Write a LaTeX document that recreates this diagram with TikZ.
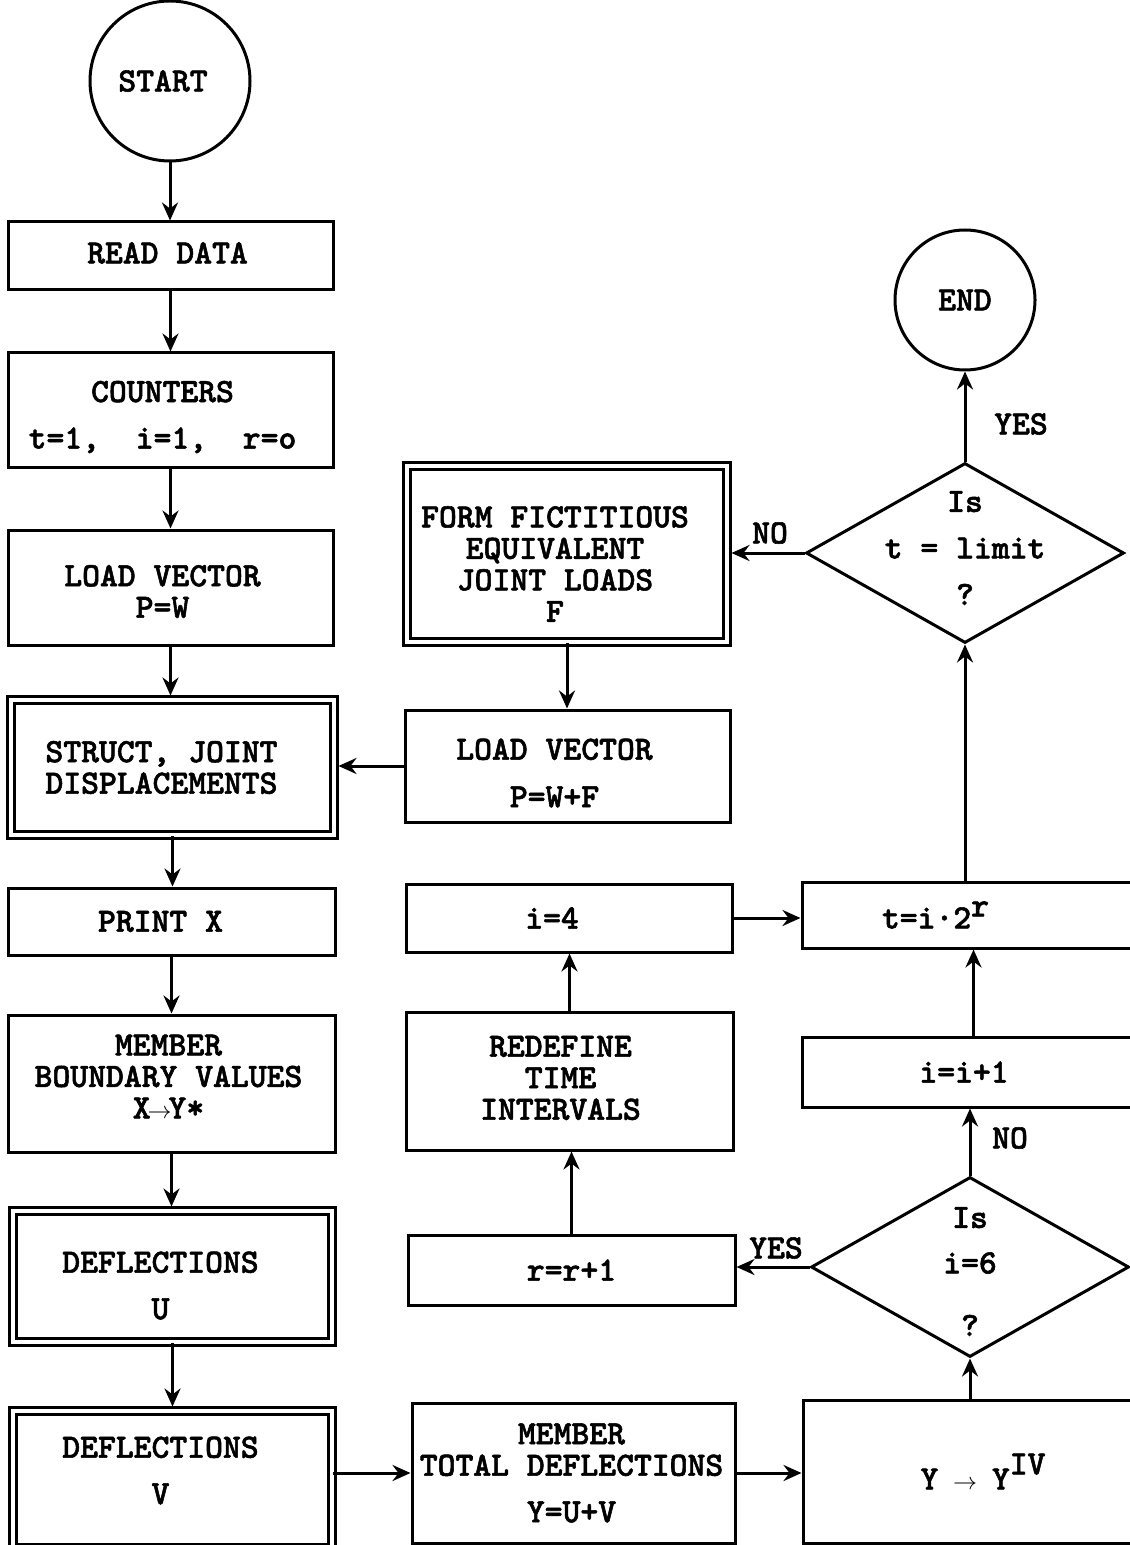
\documentclass[tikz,border=0pt]{standalone}
\usepackage{fontspec}
\newfontfamily\courfont{lmmonolt10-bold.otf}[FakeBold=1.6]
\usetikzlibrary{shapes.geometric,arrows.meta,calc}
\newcommand\smallarr{\makebox[0.525em]{\fontsize{12}{12}\selectfont$\rightarrow$}}
\begin{document}
\begin{tikzpicture}[x=0.5pt,y=-0.5pt,
  every node/.style={font={\courfont\fontsize{17}{15.75}\selectfont}},
  box/.style={draw, line width=1.5pt, rectangle, align=center, inner sep=0pt},
  dbox/.style={box, double, double distance=2pt, line width=1.3pt},
  circ/.style={draw, line width=1.5pt, circle, inner sep=0pt},
  dia/.style={draw, line width=1.5pt, diamond, inner sep=0pt},
  arr/.style={line width=1.5pt, -{Stealth[length=9pt,width=8pt,inset=3pt]}},
  darr/.style={arr, shorten >=1.6pt},
  lbl/.style={inner sep=0pt, align=center}
]
\useasboundingbox (0,0) rectangle (1129,1545);

% left column
\node[circ, minimum size=80pt, label={[lbl, xshift=-3.5pt]center:{START}}] (start) at (170,81) {};
\node[box, minimum width=162.5pt, minimum height=34pt,
  label={[lbl, xshift=-1.5pt, yshift=1.5pt]center:{READ DATA}}] (read) at (170.5,256) {};
\node[box, minimum width=162.5pt, minimum height=57pt,
  label={[lbl, xshift=-4pt, yshift=-3.5pt]center:{COUNTERS\\[7.5pt]t=1,\ \ i=1,\ \ r=o}}] (counters) at (170.5,410) {};
\node[box, minimum width=162.5pt, minimum height=57.5pt,
  label={[lbl, xshift=-4pt, yshift=-2pt]center:{LOAD VECTOR\\P=W}}] (loadw) at (170.5,587.5) {};
\node[dbox, minimum width=161.5pt, minimum height=67.5pt,
  label={[lbl, xshift=-5.5pt]center:{STRUCT, JOINT\\DISPLACEMENTS}}] (struct) at (172.5,767.5) {};
\node[box, minimum width=163.5pt, minimum height=33.5pt,
  label={[lbl, xshift=-5.5pt]center:{PRINT X}}] (print) at (171.5,921.5) {};
\node[box, minimum width=163.5pt, minimum height=68.5pt,
  label={[lbl, xshift=-1.5pt, yshift=3.5pt]center:{MEMBER\\BOUNDARY VALUES\\X\smallarr Y*}}] (member) at (171.5,1083.5) {};
\node[dbox, minimum width=159.5pt, minimum height=65.5pt,
  label={[lbl, xshift=-6pt, yshift=-4.5pt]center:{DEFLECTIONS\\[7.5pt]U}}] (defu) at (172.5,1276.5) {};
\node[dbox, minimum width=159.5pt, minimum height=68.5pt,
  label={[lbl, xshift=-6pt, yshift=4.5pt]center:{DEFLECTIONS\\[7.5pt]V}}] (defv) at (172.5,1479.5) {};

% middle column
\node[dbox, minimum width=160pt, minimum height=88pt,
  label={[lbl, xshift=-6pt, yshift=-5pt]center:{FORM FICTITIOUS\\EQUIVALENT\\JOINT LOADS\\F}}] (form) at (567,554) {};
\node[box, minimum width=162.5pt, minimum height=56pt,
  label={[lbl, xshift=-6.5pt, yshift=-3.5pt]center:{LOAD VECTOR\\[8pt]P=W+F}}] (loadf) at (567.5,766) {};
\node[box, minimum width=163pt, minimum height=34pt,
  label={[lbl, xshift=-8.5pt]center:{i=4}}] (i4) at (569,918) {};
\node[box, minimum width=163.5pt, minimum height=69pt,
  label={[lbl, xshift=-4.5pt, yshift=1.5pt]center:{REDEFINE\\TIME\\INTERVALS}}] (redef) at (569.5,1081) {};
\node[box, minimum width=163.5pt, minimum height=35pt,
  label={[lbl]center:{r=r+1}}] (rr) at (571.5,1270) {};
\node[box, minimum width=161.5pt, minimum height=70pt,
  label={[lbl, xshift=-1pt]center:{MEMBER\\TOTAL DEFLECTIONS\\[7.5pt]Y=U+V}}] (total) at (573.5,1473) {};

% right column
\node[circ, minimum size=70pt, label={[lbl]center:{END}}] (end) at (965,300) {};
\node[dia, minimum width=159pt, minimum height=90pt,
  label={[lbl, yshift=2.5pt]center:{Is\\[7.5pt]t = limit\\[7.5pt]?}}] (dlim) at (965,553) {};
\node[box, minimum width=171.5pt, minimum height=33pt,
  label={[lbl, xshift=-19pt]center:{t=i·2\raisebox{6pt}{r}}}] (tbox) at (973.5,915) {};
\node[box, minimum width=171.5pt, minimum height=35pt,
  label={[lbl, xshift=-4.75pt]center:{i=i+1}}] (inc) at (973.5,1072) {};
\node[dia, minimum width=159pt, minimum height=90pt,
  label={[lbl, yshift=-2.25pt]center:{Is\\[7pt]i=6\\[15.5pt]?}}] (d6) at (970,1267) {};
\node[box, minimum width=171pt, minimum height=71.5pt,
  label={[lbl, xshift=4.5pt]center:{Y \smallarr\ Y\raisebox{7.5pt}{IV}}}] (ybox) at (974,1471.5) {};

% connector labels
\node[lbl] (nolim) at (770,533) {NO};
\node[lbl] (yesend) at (1021,424) {YES};
\node[lbl] (no6) at (1010,1138) {NO};
\node[lbl] (yes6) at (776,1248) {YES};

% connectors, left column
\draw[arr] (start.south) -- (start.south |- read.north);
\draw[arr] (read.south) -- (read.south |- counters.north);
\draw[arr] (counters.south) -- (counters.south |- loadw.north);
\draw[darr] (loadw.south) -- (loadw.south |- struct.north);
\draw[arr] (struct.south) -- (struct.south |- print.north);
\draw[arr] (print.south) -- (print.south |- member.north);
\draw[darr] (member.south) -- (member.south |- defu.north);
\draw[darr] (defu.south) -- (defu.south |- defv.north);
% bottom row
\draw[arr] (defv.east |- total.west) -- (total.west);
\draw[arr] (total.east) -- (total.east -| ybox.west);
\draw[arr] (d6.south |- ybox.north) -- (d6.south);
% loop
\draw[arr] (d6.west) -- (d6.west -| rr.east);
\draw[arr] (rr.north) -- (rr.north |- redef.south);
\draw[arr] (redef.north) -- (redef.north |- i4.south);
\draw[arr] (i4.east) -- (i4.east -| tbox.west);
\draw[arr] (d6.north) -- (d6.north |- inc.south);
\draw[arr] (inc.north) -- (inc.north |- tbox.south);
\draw[arr] (dlim.south |- tbox.north) -- (dlim.south);
\draw[arr] (dlim.north) -- (end.south);
\draw[darr] (dlim.west) -- (dlim.west -| form.east);
\draw[arr] (form.south) -- (form.south |- loadf.north);
\draw[darr] (loadf.west) -- (loadf.west -| struct.east);
\end{tikzpicture}
\end{document}
